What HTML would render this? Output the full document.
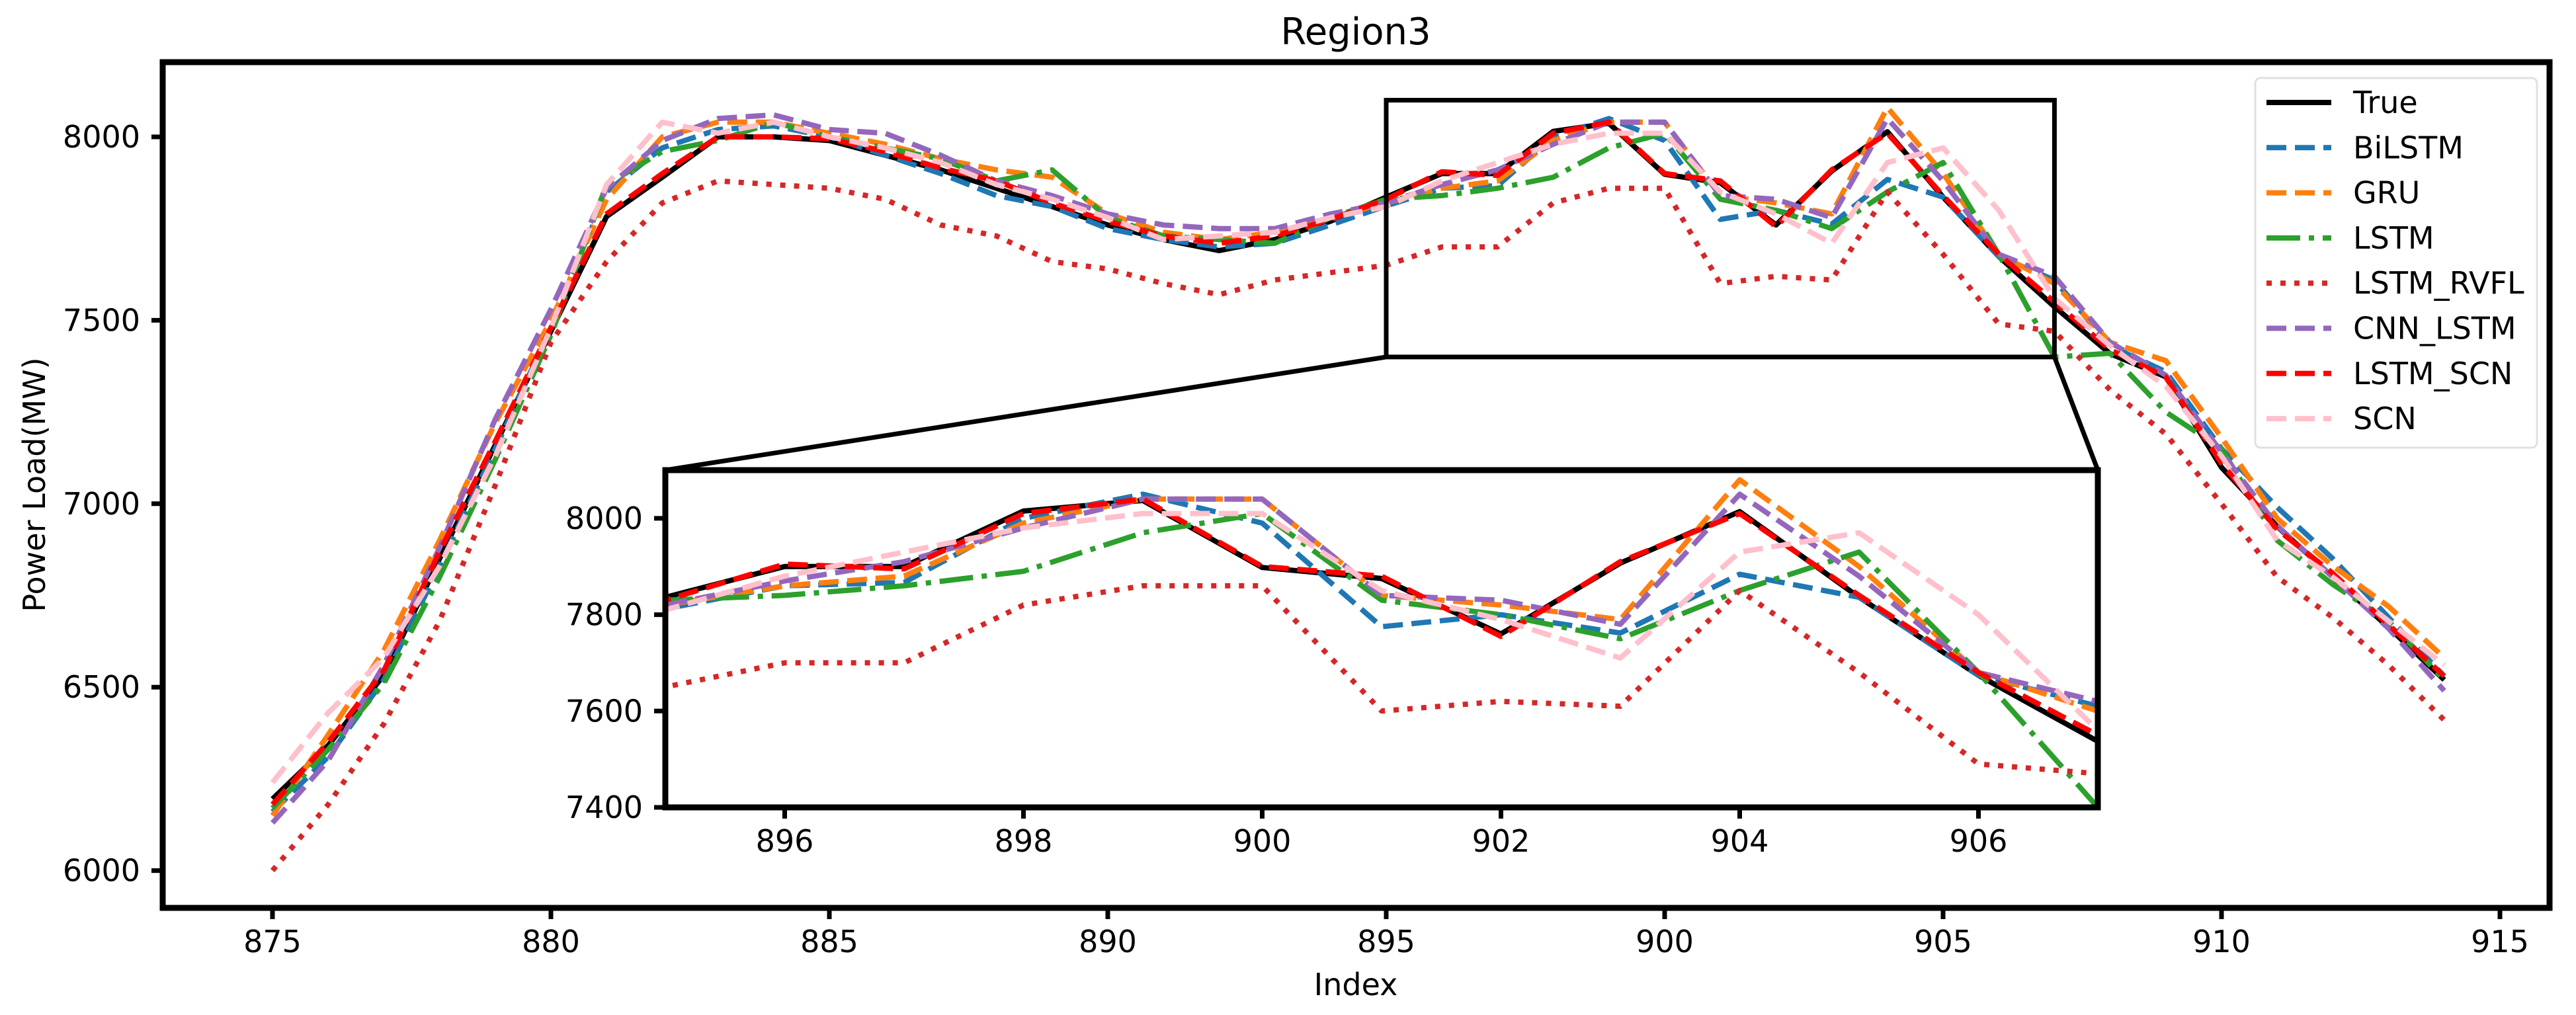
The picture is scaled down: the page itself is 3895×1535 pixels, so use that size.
<!DOCTYPE html>
<html><head><meta charset="utf-8"><style>
html,body{margin:0;padding:0;background:#fff;width:3895px;height:1535px;overflow:hidden;}
svg{display:block;font-family:"DejaVu Sans","Liberation Sans",sans-serif;}
</style></head><body>
<svg id="chart" width="3895" height="1535" viewBox="0 0 3895 1535" xmlns="http://www.w3.org/2000/svg">
<defs>
<clipPath id="mainClip"><rect x="250" y="98" width="3601" height="1271"/></clipPath>
<clipPath id="insetClip"><rect x="1010" y="715" width="2158" height="502"/></clipPath>
</defs>
<rect x="0" y="0" width="3895" height="1535" fill="#fff"/>
<text x="2050" y="67" font-size="56" text-anchor="middle">Region3</text>
<text x="2050" y="1505" font-size="46" text-anchor="middle">Index</text>
<text x="0" y="0" font-size="46" text-anchor="middle" transform="translate(68,733) rotate(-90)">Power Load(MW)</text>
<g id="mainLines" clip-path="url(#mainClip)"></g>
<g id="mainAxes"></g>
<g id="zoomBox"></g>
<rect x="1006" y="711" width="2166" height="510" fill="#fff"/>
<g id="insetLines" clip-path="url(#insetClip)"></g>
<g id="insetAxes"></g>
<g id="legend"></g>
</svg>
<script>
const xIndex = [875,876,877,878,879,880,881,882,883,884,885,886,887,888,889,890,891,892,893,894,895,896,897,898,899,900,901,902,903,904,905,906,907,908,909,910,911,912,913,914];
const seriesNames = ["True","BiLSTM","GRU","LSTM","LSTM_RVFL","CNN_LSTM","LSTM_SCN","SCN"];
const trueVals = [6195,6341,6533,6850,7160,7470,7783,7890,8000,8000,7990,7950,7910,7860,7810,7760,7720,7690,7720,7770,7836,7900,7900,8015,8037,7898,7875,7760,7907,8014,7836,7674,7537,7409,7346,7099,6938,6800,6663,6520];
const bilstmVals = [6160,6310,6520,6830,7150,7480,7850,7970,8020,8030,8000,7950,7900,7840,7810,7750,7720,7700,7710,7760,7812,7860,7867,8000,8050,7990,7775,7800,7762,7884,7836,7674,7610,7430,7360,7150,6990,6850,6690,6530];
const gruVals = [6150,6370,6600,6900,7220,7500,7830,8000,8040,8040,8010,7980,7940,7910,7890,7790,7740,7720,7740,7780,7820,7860,7880,7990,8040,8040,7840,7820,7790,8080,7900,7680,7600,7440,7390,7180,6960,6830,6720,6580];
const lstmVals = [6170,6330,6510,6800,7120,7460,7870,7960,7990,8040,8000,7970,7940,7880,7910,7780,7730,7720,7710,7780,7830,7840,7860,7890,7970,8010,7830,7800,7750,7850,7930,7680,7400,7410,7250,7150,6900,6780,6680,6520];
const rvflVals = [6000,6180,6400,6680,7050,7440,7660,7820,7880,7870,7860,7830,7760,7730,7660,7640,7600,7570,7610,7630,7650,7700,7700,7820,7860,7860,7600,7620,7610,7850,7680,7490,7470,7310,7190,7000,6800,6690,6560,6410];
const cnnVals = [6130,6300,6560,6880,7230,7530,7860,7990,8050,8060,8020,8010,7950,7880,7840,7790,7760,7750,7750,7790,7820,7870,7910,7980,8040,8040,7840,7830,7780,8050,7880,7680,7620,7440,7350,7140,6940,6800,6660,6490];
const lstmScnVals = [6180,6350,6545,6870,7170,7480,7790,7900,8000,8000,7995,7960,7915,7880,7820,7770,7730,7710,7730,7775,7830,7905,7895,8010,8040,7900,7880,7755,7910,8010,7840,7680,7550,7420,7345,7110,6930,6810,6670,6530];
const scnVals = [6240,6430,6580,6830,7130,7480,7870,8040,8010,8040,8000,7970,7930,7870,7830,7780,7720,7730,7740,7780,7810,7880,7930,7980,8010,8010,7850,7790,7710,7930,7970,7800,7560,7430,7320,7130,6900,6800,6680,6560];
const mainXTicks = [875,880,885,890,895,900,905,910,915];
const mainYTicks = [6000,6500,7000,7500,8000];
const insetXTicks = [896,898,900,902,904,906];
const insetYTicks = [7400,7600,7800,8000];

const NS = "http://www.w3.org/2000/svg";
const allVals = [trueVals,bilstmVals,gruVals,lstmVals,rvflVals,cnnVals,lstmScnVals,scnVals];
const colors = ["#000000","#1f77b4","#ff7f0e","#2ca02c","#d62728","#9467bd","#ff0000","#ffc0cb"];
const dashes = ["", "30 13", "30 13", "51 13 8 13", "8 13", "30 13", "30 13", "30 13"];
const slugs = ["true","bilstm","gru","lstm","lstm-rvfl","cnn-lstm","lstm-scn","scn"];
const LW = 8;

function mk(tag, attrs, parent){ const e=document.createElementNS(NS,tag); for(const k in attrs) e.setAttribute(k,attrs[k]); parent.appendChild(e); return e; }

const mx = v => 412 + (v-875)*84.2;
const my = v => 207 + (8000-v)*(277.4/500);
const ix = v => 1006 + (v-895)*(2166/12);
const iy = v => 1221 + (7400-v)*(510/700);

function drawLines(g, fx, fy, prefix){
  for(let s=0;s<allVals.length;s++){
    const pts = xIndex.map((x,i)=>fx(x).toFixed(1)+","+fy(allVals[s][i]).toFixed(1)).join(" ");
    const p = mk("polyline",{points:pts,fill:"none",stroke:colors[s],"stroke-width":LW,"stroke-linejoin":"round"},g);
    if(dashes[s]) p.setAttribute("stroke-dasharray",dashes[s]);
    
    
  }
}
drawLines(document.getElementById("mainLines"), mx, my, "main");
drawLines(document.getElementById("insetLines"), ix, iy, "inset");

const ma = document.getElementById("mainAxes");
const frame = mk("rect",{x:246,y:94,width:3609,height:1279,fill:"none",stroke:"#000","stroke-width":9},ma);


mainXTicks.forEach(t=>{
  const x=mx(t);
  const tk = mk("line",{x1:x,y1:1373,x2:x,y2:1390,stroke:"#000","stroke-width":7},ma);
  
  
  const tl = mk("text",{x:x,y:1440,"font-size":46,"text-anchor":"middle"},ma);
  tl.textContent = t;
  
  
});
mainYTicks.forEach(t=>{
  const y=my(t);
  const tk = mk("line",{x1:229,y1:y,x2:246,y2:y,stroke:"#000","stroke-width":7},ma);
  
  
  const tl = mk("text",{x:212,y:y+16,"font-size":46,"text-anchor":"end"},ma);
  tl.textContent = t;
  
  
});

const zb = document.getElementById("zoomBox");
const zr = mk("rect",{x:mx(895),y:my(8100),width:mx(907)-mx(895),height:my(7400)-my(8100),fill:"none",stroke:"#000","stroke-width":7},zb);


const c1 = mk("line",{x1:mx(895),y1:my(7400),x2:1006,y2:711,stroke:"#000","stroke-width":7},zb);


const c2 = mk("line",{x1:mx(907),y1:my(7400),x2:3172,y2:711,stroke:"#000","stroke-width":7},zb);



const ia = document.getElementById("insetAxes");
const ifr = mk("rect",{x:1006,y:711,width:2166,height:510,fill:"none",stroke:"#000","stroke-width":9},ia);


insetXTicks.forEach(t=>{
  const x=ix(t);
  const tk = mk("line",{x1:x,y1:1221,x2:x,y2:1238,stroke:"#000","stroke-width":7},ia);
  
  
  const tl = mk("text",{x:x,y:1288,"font-size":46,"text-anchor":"middle"},ia);
  tl.textContent = t;
  
  
});
insetYTicks.forEach(t=>{
  const y=iy(t);
  const tk = mk("line",{x1:989,y1:y,x2:1006,y2:y,stroke:"#000","stroke-width":7},ia);
  
  
  const tl = mk("text",{x:972,y:y+16,"font-size":46,"text-anchor":"end"},ia);
  tl.textContent = t;
  
  
});

const lg = document.getElementById("legend");


const lbox = mk("rect",{x:3410,y:118,width:426,height:559,rx:8,fill:"#fff","fill-opacity":0.85,stroke:"#e0e0e0","stroke-width":3},lg);


seriesNames.forEach((n,s)=>{
  const y = 155 + s*68.3;
  const ln = mk("line",{x1:3427,y1:y,x2:3525,y2:y,stroke:colors[s],"stroke-width":LW},lg);
  if(dashes[s]) ln.setAttribute("stroke-dasharray",dashes[s]);
  
  
  const tx = mk("text",{x:3558,y:y+16,"font-size":46},lg);
  tx.textContent = n;
  
  
});
</script>
</body></html>
